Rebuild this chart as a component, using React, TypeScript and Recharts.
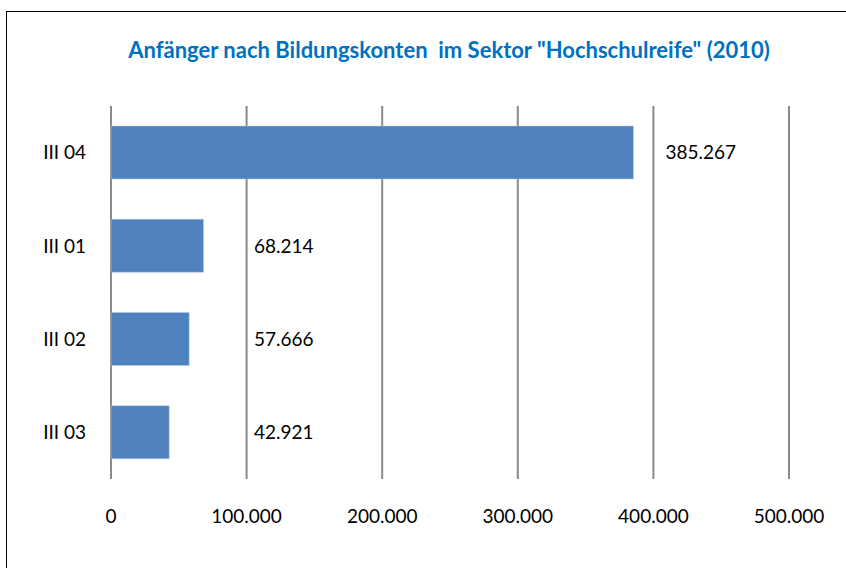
import { BarChart, Bar, XAxis, YAxis, CartesianGrid, LabelList } from "recharts";

const categories = ["III 04", "III 01", "III 02", "III 03"];
const values = [385267, 68214, 57666, 42921];
const xTicks = [0, 100000, 200000, 300000, 400000, 500000];

const data = categories.map((name, i) => ({ name, value: values[i] }));

const FONT = "Lato, 'Open Sans', sans-serif";

const fmt = (v: number) => v.toLocaleString("de-DE");

// Excel put the small labels further out than the big one
function ValueLabel(props: any) {
  const { x, y, width, height, value } = props;
  const tx = Math.max(x + width + 32, x + 143);
  return (
    <text
      x={tx}
      y={y + height / 2 + 2}
      dominantBaseline="middle"
      fontFamily={FONT}
      fontSize={19}
      fill="#000"
    >
      {fmt(value)}
    </text>
  );
}

export default function App() {
  return (
    <div style={{ position: "absolute", left: 0, top: 0, width: 846, height: 568, background: "#fff" }}>
      <div
        style={{
          position: "absolute",
          left: 6,
          top: 11,
          width: 860,
          height: 580,
          border: "1.5px solid #000",
        }}
      />
      <div
        style={{
          position: "absolute",
          left: 0,
          top: 36,
          width: 898,
          textAlign: "center",
          fontFamily: FONT,
          fontWeight: 700,
          fontSize: 22,
          lineHeight: "28px",
          color: "#0070c0",
          whiteSpace: "pre",
        }}
      >
        {'Anfänger nach Bildungskonten  im Sektor "Hochschulreife" (2010)'}
      </div>
      <div style={{ position: "absolute", left: 0, top: 0 }}>
        <BarChart
          width={846}
          height={568}
          data={data}
          layout="vertical"
          margin={{ top: 106, right: 57, left: 0, bottom: 0 }}
          barCategoryGap={20}
        >
          <CartesianGrid horizontal={false} vertical={true} stroke="#8a8a8a" strokeWidth={2} />
          <XAxis
            type="number"
            domain={[0, 500000]}
            ticks={xTicks}
            tickFormatter={fmt}
            axisLine={false}
            tickLine={false}
            height={89}
            tickMargin={25}
            tick={{ fill: "#000", fontSize: 19, fontFamily: FONT }}
          />
          <YAxis
            type="category"
            dataKey="name"
            width={111}
            axisLine={false}
            tickLine={false}
            tickMargin={19}
            tick={{ fill: "#000", fontSize: 19, fontFamily: FONT }}
          />
          <Bar dataKey="value" fill="#4f81bd" stroke="#b9cde5" strokeWidth={0.5} barSize={53} isAnimationActive={false}>
            <LabelList dataKey="value" content={ValueLabel} />
          </Bar>
        </BarChart>
      </div>
    </div>
  );
}
